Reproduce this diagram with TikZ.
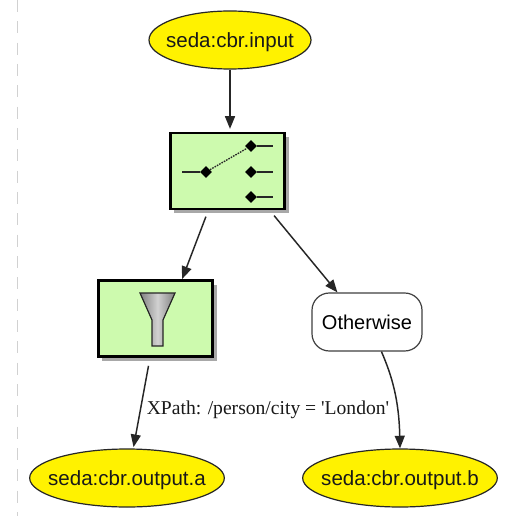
\documentclass[tikz,border=0pt]{standalone}
\usepackage{fontspec}
\setmainfont{Liberation Sans}
\newfontfamily\labelfont{Liberation Serif}
\usetikzlibrary{shapes.geometric,arrows.meta,shadows}
\definecolor{eipgreen}{HTML}{CDFAAE}
\definecolor{shadowgray}{HTML}{A8A8A8}
\tikzset{
  endpoint/.style={ellipse,draw=black!85,line width=0.9pt,fill=yellow,minimum width=146pt,minimum height=43.5pt,inner xsep=-14pt,inner ysep=0pt,font=\fontsize{15.4}{18}\selectfont,text=black!90},
  eipbox/.style={rectangle,draw=black,line width=2.2pt,fill=eipgreen,minimum width=86pt,minimum height=57pt,inner sep=0pt,drop shadow={shadow xshift=3pt,shadow yshift=-3pt,opacity=1,fill=shadowgray}},
  whenbox/.style={rectangle,rounded corners=13pt,draw=black!75,line width=0.9pt,fill=white,minimum width=82.5pt,minimum height=43.5pt,inner sep=0pt,font=\fontsize{15}{18}\selectfont},
  conn/.style={draw=black!85,line width=1.1pt,-{Triangle[length=9.5pt,width=7.5pt]}},
  pin/.style={diamond,fill=black,inner sep=0pt,minimum size=9pt},
  wire/.style={draw=black!85,line width=1pt},
}
\begin{document}
\begin{tikzpicture}[x=0.75pt,y=-0.75pt]
\useasboundingbox (0,0) rectangle (506,516);
\fill[white] (0,0) rectangle (506,516);
\draw[black!18,line width=1pt,dash pattern=on 9pt off 7pt] (17.5,0) -- (17.5,516);
\node[endpoint,minimum width=121.5pt] (in) at (230,40) {\rule{0pt}{15pt}seda:cbr.input};
\node[eipbox] (sw) at (227.5,171) {};
\node[eipbox] (fi) at (155.5,318.5) {};
\node[whenbox] (ot) at (367,322) {Otherwise};
\node[endpoint] (a) at (127,478) {\rule{0pt}{15pt}seda:cbr.output.a};
\node[endpoint] (b) at (400,478) {\rule{0pt}{15pt}seda:cbr.output.b};
% switch icon
\node[pin] (p0) at (206,172) {};
\node[pin] (p1) at (251,146) {};
\node[pin] (p2) at (251,172) {};
\node[pin] (p3) at (251,197) {};
\coordinate (w0) at (182,172);
\coordinate (w1) at (273,146);
\coordinate (w2) at (273,172);
\coordinate (w3) at (273,197);
\draw[wire] (w0) -- (p0);
\draw[wire,dash pattern=on 1.2pt off 0.8pt] (p0) -- (p1);
\draw[wire] (p1) -- (w1);
\draw[wire] (p2) -- (w2);
\draw[wire] (p3) -- (w3);
% filter icon
\draw[black!85,line width=0.9pt,left color=black!50,right color=black!50,middle color=black!18]
  (140,293) -- (175,293) -- (163,320) -- (163,346) -- (152,346) -- (152,320) -- cycle;
% connectors
\draw[conn,shorten >=2pt] (in.south) -- (sw.north -| in.south);
\draw[conn,shorten <=5pt] (sw.244.6) -- (fi.56);
\draw[conn,shorten <=5pt] (sw.317.5) -- (ot.135);
\draw[conn,shorten <=6pt,shorten >=1pt] (fi.262) -- (a.78);
\draw[conn] (ot.296) .. controls (392,376) and (399,400) .. (b.north);
\node[font=\labelfont\fontsize{14.7}{17}\selectfont,text=black!90,inner sep=0pt] (lbl) at (268,410) {XPath: /person/city = 'London'};
\end{tikzpicture}
\end{document}
